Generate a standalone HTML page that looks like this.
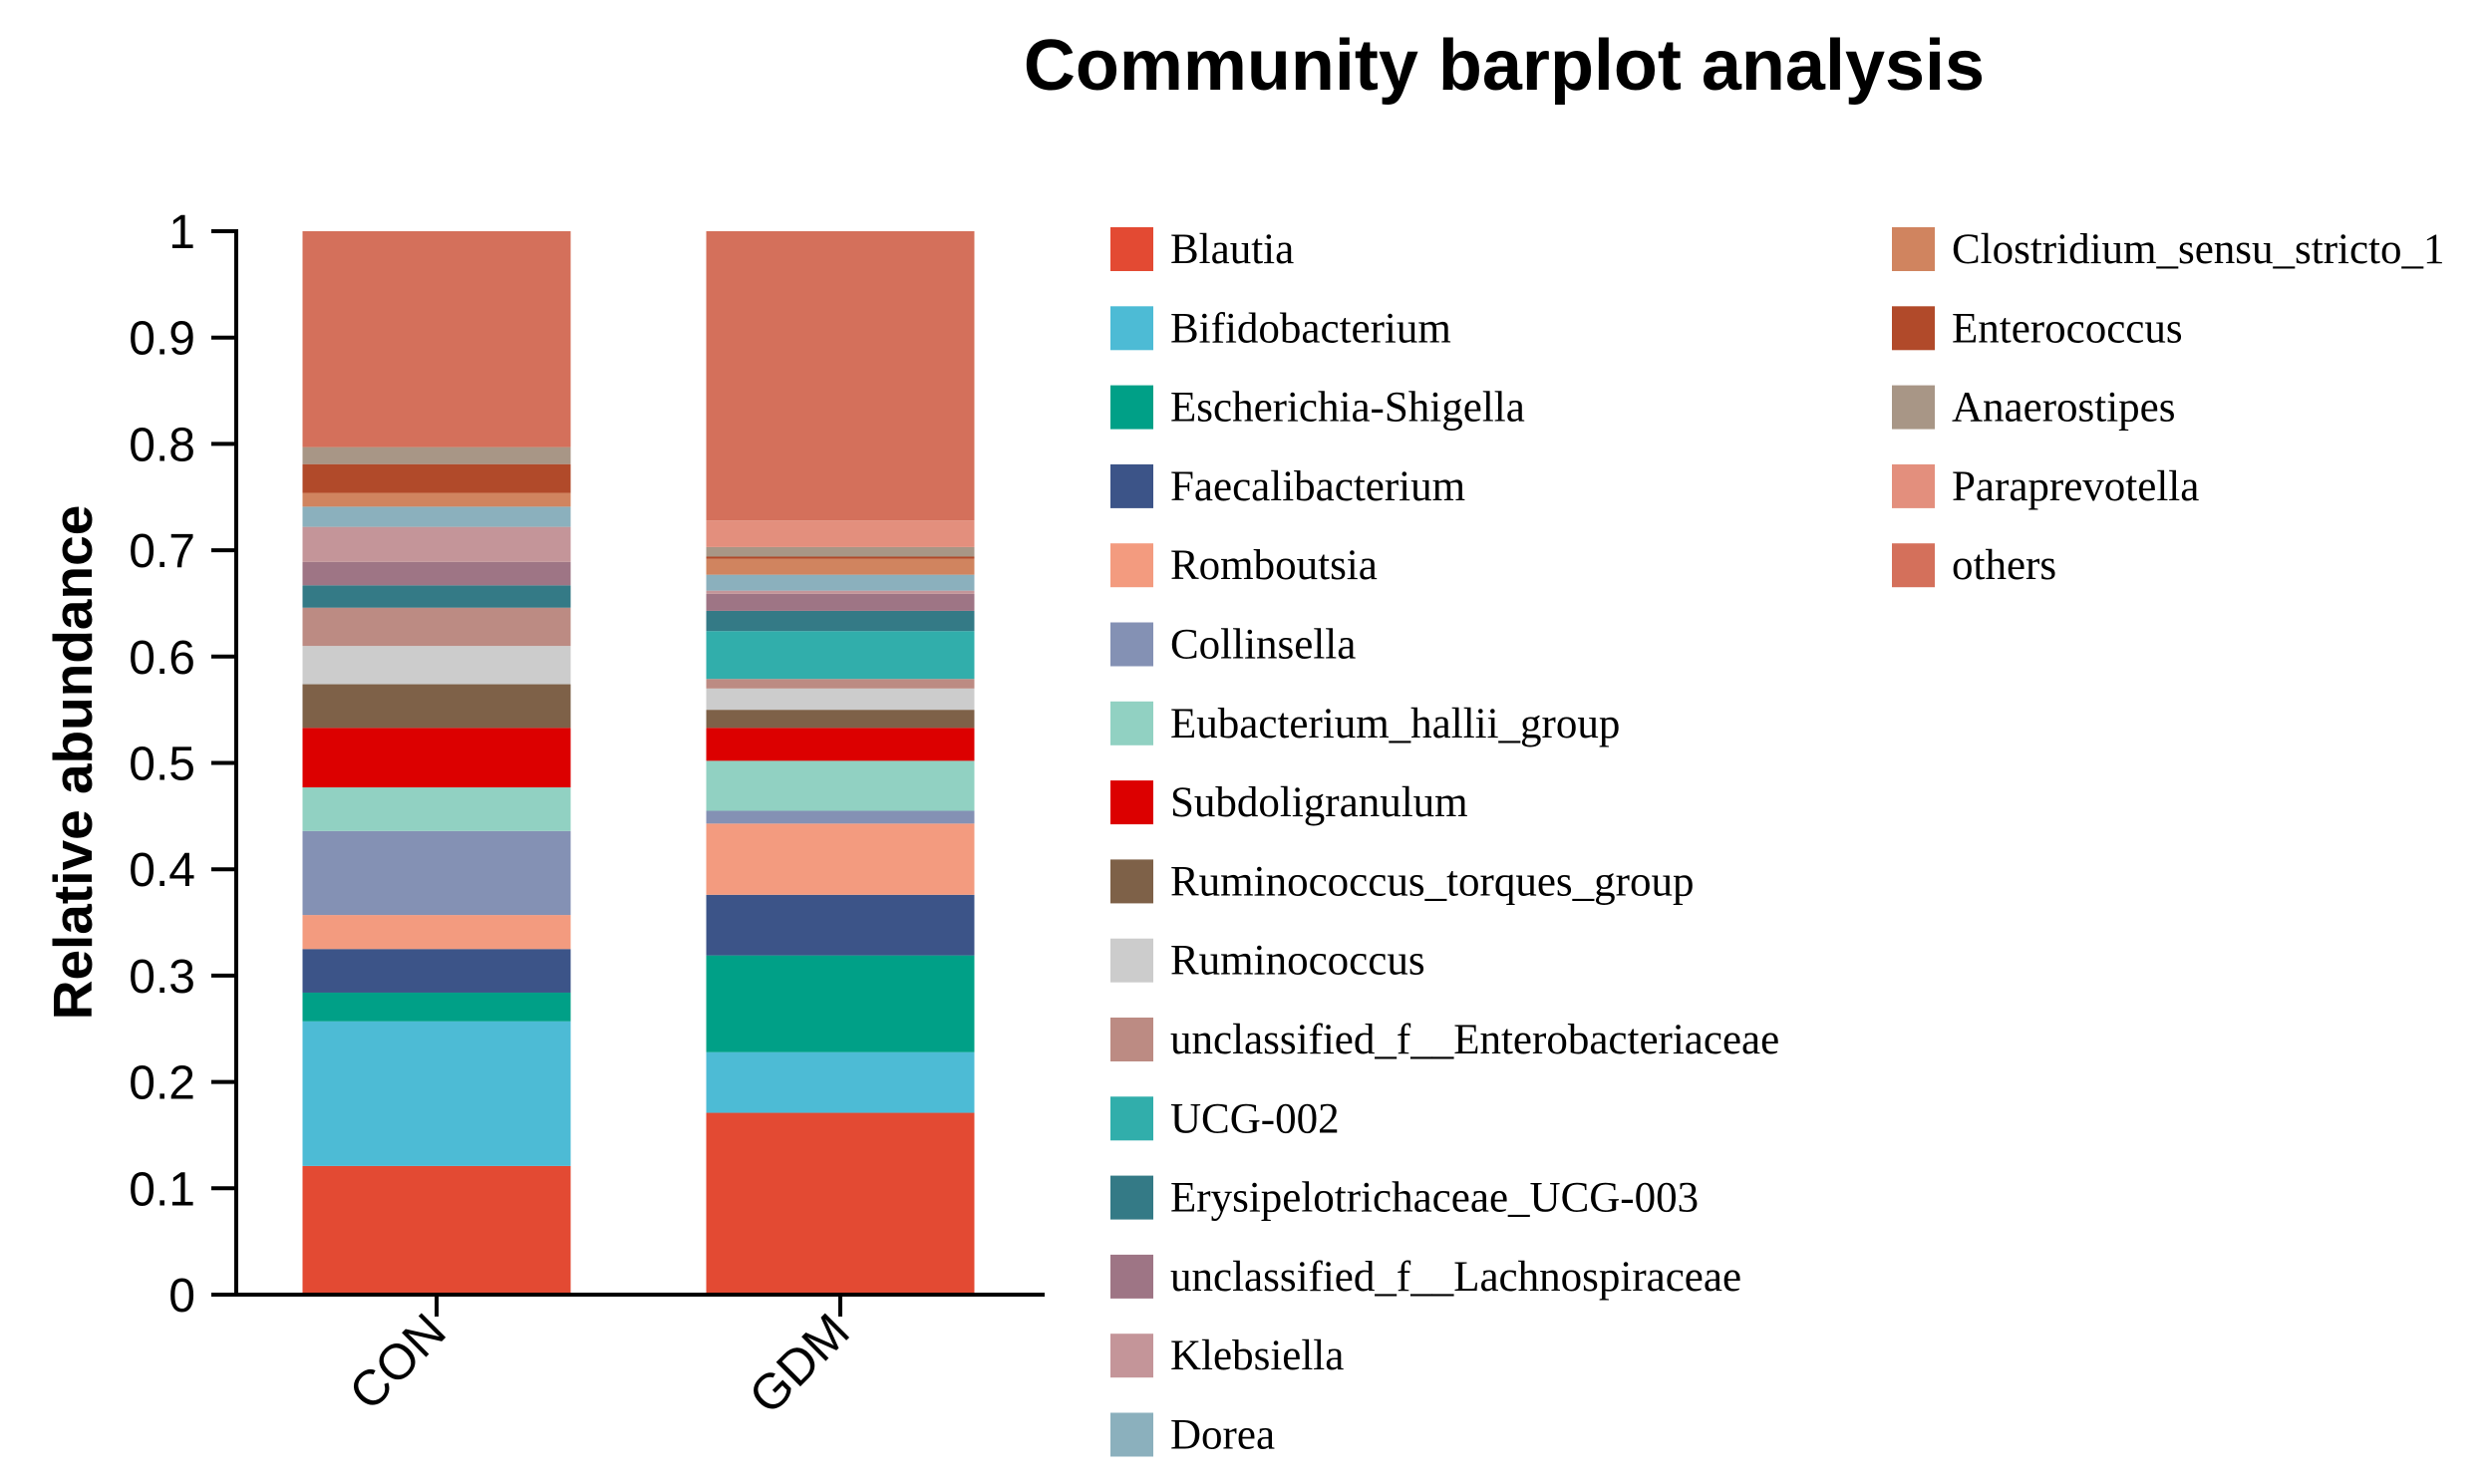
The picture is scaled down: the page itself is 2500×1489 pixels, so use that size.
<!DOCTYPE html>
<html><head><meta charset="utf-8"><style>
html,body{margin:0;padding:0;background:#fff;}
svg{display:block;}
</style></head><body>
<svg id="chart" width="2500" height="1489" viewBox="0 0 2500 1489" xmlns="http://www.w3.org/2000/svg">
<text x="1509" y="90" font-family="Liberation Sans, sans-serif" font-weight="bold" font-size="72" text-anchor="middle">Community barplot analysis</text>
<text transform="translate(92,765) rotate(-90)" font-family="Liberation Sans, sans-serif" font-weight="bold" font-size="55" text-anchor="middle">Relative abundance</text>
<g id="plot"></g>
<g id="legend"></g>
</svg>
<script>
const categories = ["CON", "GDM"];
const taxa = ["Blautia","Bifidobacterium","Escherichia-Shigella","Faecalibacterium","Romboutsia","Collinsella","Eubacterium_hallii_group","Subdoligranulum","Ruminococcus_torques_group","Ruminococcus","unclassified_f__Enterobacteriaceae","UCG-002","Erysipelotrichaceae_UCG-003","unclassified_f__Lachnospiraceae","Klebsiella","Dorea","Clostridium_sensu_stricto_1","Enterococcus","Anaerostipes","Paraprevotella","others"];
const colors = ["#e34a33","#4dbbd5","#00a087","#3c5488","#f39b7f","#8491b4","#91d1c2","#dc0000","#7e6148","#cccccc","#bc8b83","#31aeab","#347a86","#9e7585","#c49599","#8bb0bd","#d0845f","#b14a2a","#a89686","#e38f7d","#d4705b"];
const conValues = [0.121,0.136,0.027,0.041,0.032,0.079,0.041,0.056,0.041,0.036,0.036,0.000,0.021,0.022,0.033,0.019,0.013,0.027,0.016,0.000,0.203];
const gdmValues = [0.171,0.057,0.091,0.057,0.067,0.012,0.047,0.031,0.017,0.020,0.009,0.045,0.019,0.016,0.003,0.015,0.015,0.002,0.009,0.025,0.272];
const yTicks = [0,0.1,0.2,0.3,0.4,0.5,0.6,0.7,0.8,0.9,1];
const yTickLabels = ["0","0.1","0.2","0.3","0.4","0.5","0.6","0.7","0.8","0.9","1"];

const NS = "http://www.w3.org/2000/svg";
const plotTop = 232, plotBottom = 1299, axisX = 237, axisEnd = 1048;
const barCenters = [438, 843], barW = 269;
function y(v){ return plotBottom - v*(plotBottom-plotTop); }
function xc(i){ return barCenters[i]; }
const plot = document.getElementById('plot');
function mk(tag, attrs, parent){ const e=document.createElementNS(NS,tag); for(const k in attrs) e.setAttribute(k,attrs[k]); parent.appendChild(e); return e; }

const series = [conValues, gdmValues];
series.forEach((vals, ci) => {
  const g = mk('g', {}, plot);
  
  
  let cum = 0;
  vals.forEach((v, ti) => {
    if (v <= 0) { return; }
    const r = mk('rect', {x: xc(ci)-barW/2, y: y(cum+v), width: barW, height: y(cum)-y(cum+v), fill: colors[ti]}, g);
    
    
    cum += v;
  });
});

const ya = mk('line', {x1:axisX, y1:plotTop-2, x2:axisX, y2:plotBottom, stroke:'#000', 'stroke-width':4}, plot);


const xa = mk('line', {x1:213, y1:plotBottom, x2:axisEnd, y2:plotBottom, stroke:'#000', 'stroke-width':4}, plot);


yTicks.forEach((t, i) => {
  const l = mk('line', {x1:axisX-25, y1:y(t), x2:axisX, y2:y(t), stroke:'#000', 'stroke-width':4}, plot);
  
  
  const tx = mk('text', {x:196, y:y(t)+17, 'text-anchor':'end', 'font-family':'Liberation Sans, sans-serif', 'font-size':48}, plot);
  tx.textContent = yTickLabels[i];
  
  
});
categories.forEach((c, i) => {
  const l = mk('line', {x1:xc(i), y1:plotBottom, x2:xc(i), y2:plotBottom+22, stroke:'#000', 'stroke-width':4}, plot);
  
  
  const tx = mk('text', {transform:`translate(${xc(i)+12},${plotBottom+40}) rotate(-45)`, 'text-anchor':'end', 'font-family':'Liberation Sans, sans-serif', 'font-size':50}, plot);
  tx.textContent = c;
  
  
});

const lg = document.getElementById('legend');


taxa.forEach((t, i) => {
  const col = i < 16 ? 0 : 1;
  const row = i < 16 ? i : i - 16;
  const sx = col === 0 ? 1114 : 1898;
  const cy = 250 + row*79.3;
  const g = mk('g', {}, lg);
  
  
  mk('rect', {x:sx, y:cy-22, width:43, height:44, fill:colors[i]}, g);
  const tx = mk('text', {x:sx+60, y:cy+14, 'font-family':'Liberation Serif, serif', 'font-size':43}, g);
  tx.textContent = t;
});
</script>
</body></html>
